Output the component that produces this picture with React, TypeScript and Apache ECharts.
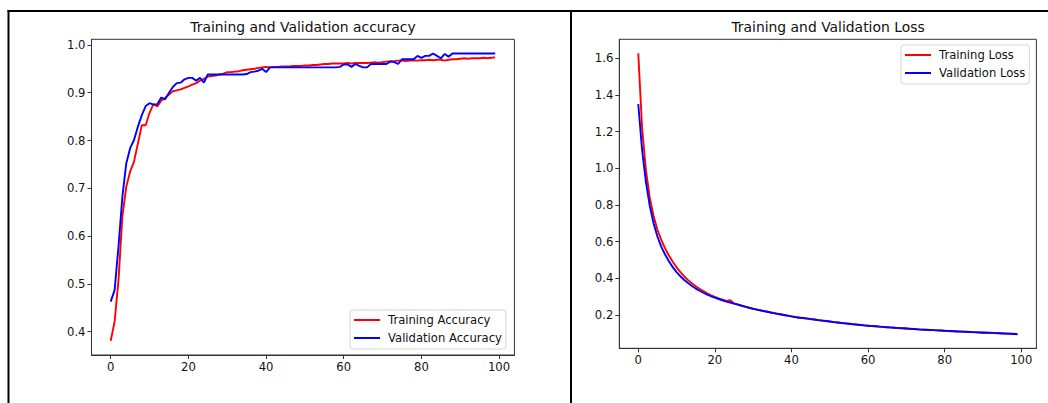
import { useEffect, useRef } from "react";
import * as echarts from "echarts";

// ---- data ----
const epochs: number[] = Array.from({ length: 100 }, (_, i) => i);

const trainAcc: number[] = [
  0.381, 0.421, 0.508, 0.641, 0.703, 0.735, 0.756, 0.794, 0.832, 0.832,
  0.858, 0.876, 0.871, 0.883, 0.889, 0.896, 0.903, 0.905, 0.907, 0.910,
  0.913, 0.917, 0.920, 0.925, 0.929, 0.934, 0.935, 0.936, 0.938, 0.940,
  0.943, 0.943, 0.944, 0.945, 0.947, 0.948, 0.949, 0.950, 0.952, 0.953,
  0.954, 0.953, 0.954, 0.954, 0.955, 0.955, 0.955, 0.956, 0.956, 0.956,
  0.957, 0.957, 0.958, 0.958, 0.959, 0.960, 0.960, 0.961, 0.961, 0.961,
  0.961, 0.962, 0.961, 0.962, 0.962, 0.962, 0.962, 0.963, 0.964, 0.963,
  0.964, 0.965, 0.966, 0.966, 0.967, 0.967, 0.966, 0.967, 0.968, 0.967,
  0.968, 0.968, 0.969, 0.968, 0.969, 0.969, 0.967, 0.969, 0.970, 0.970,
  0.971, 0.972, 0.971, 0.972, 0.972, 0.972, 0.973, 0.972, 0.973, 0.974,
];

const valAcc: number[] = [
  0.463, 0.487, 0.578, 0.682, 0.752, 0.784, 0.801, 0.829, 0.853, 0.872,
  0.878, 0.875, 0.876, 0.890, 0.886, 0.900, 0.912, 0.920, 0.921, 0.928,
  0.931, 0.931, 0.925, 0.931, 0.921, 0.938, 0.938, 0.938, 0.938, 0.938,
  0.938, 0.938, 0.938, 0.938, 0.938, 0.939, 0.943, 0.944, 0.946, 0.950,
  0.943, 0.953, 0.953, 0.953, 0.953, 0.953, 0.953, 0.953, 0.953, 0.953,
  0.953, 0.953, 0.953, 0.953, 0.953, 0.953, 0.953, 0.953, 0.953, 0.954,
  0.959, 0.959, 0.954, 0.960, 0.956, 0.953, 0.953, 0.960, 0.960, 0.960,
  0.960, 0.960, 0.965, 0.964, 0.960, 0.970, 0.970, 0.970, 0.970, 0.977,
  0.973, 0.977, 0.977, 0.982, 0.977, 0.972, 0.981, 0.975, 0.982, 0.982,
  0.982, 0.982, 0.982, 0.982, 0.982, 0.982, 0.982, 0.982, 0.982, 0.982,
];

const trainLoss: number[] = [
  1.628, 1.220, 0.990, 0.840, 0.740, 0.665, 0.610, 0.563, 0.524, 0.490,
  0.460, 0.434, 0.410, 0.390, 0.373, 0.357, 0.343, 0.330, 0.318, 0.307,
  0.298, 0.290, 0.283, 0.276, 0.280, 0.263, 0.257, 0.251, 0.245, 0.239,
  0.234, 0.229, 0.225, 0.221, 0.216, 0.212, 0.208, 0.204, 0.200, 0.196,
  0.192, 0.189, 0.186, 0.183, 0.181, 0.178, 0.175, 0.172, 0.170, 0.167,
  0.164, 0.162, 0.159, 0.156, 0.154, 0.152, 0.150, 0.148, 0.146, 0.143,
  0.141, 0.140, 0.138, 0.136, 0.135, 0.133, 0.132, 0.130, 0.129, 0.127,
  0.126, 0.125, 0.123, 0.122, 0.120, 0.119, 0.118, 0.117, 0.116, 0.115,
  0.114, 0.113, 0.112, 0.111, 0.110, 0.109, 0.108, 0.107, 0.106, 0.105,
  0.104, 0.103, 0.103, 0.102, 0.101, 0.100, 0.099, 0.098, 0.097, 0.096,
];

const valLoss: number[] = [
  1.351, 1.100, 0.925, 0.795, 0.700, 0.628, 0.573, 0.530, 0.493, 0.461,
  0.434, 0.411, 0.391, 0.374, 0.358, 0.344, 0.332, 0.321, 0.311, 0.302,
  0.294, 0.287, 0.280, 0.273, 0.268, 0.262, 0.256, 0.250, 0.244, 0.239,
  0.233, 0.229, 0.224, 0.220, 0.216, 0.211, 0.207, 0.204, 0.200, 0.196,
  0.192, 0.188, 0.185, 0.183, 0.180, 0.177, 0.175, 0.172, 0.169, 0.167,
  0.164, 0.161, 0.159, 0.156, 0.154, 0.152, 0.149, 0.147, 0.145, 0.143,
  0.141, 0.139, 0.138, 0.136, 0.134, 0.133, 0.131, 0.130, 0.128, 0.127,
  0.126, 0.124, 0.123, 0.121, 0.120, 0.119, 0.118, 0.117, 0.116, 0.115,
  0.113, 0.112, 0.111, 0.110, 0.109, 0.108, 0.107, 0.106, 0.105, 0.104,
  0.103, 0.103, 0.102, 0.101, 0.100, 0.099, 0.098, 0.097, 0.096, 0.095,
];

const xTicks: number[] = [0, 20, 40, 60, 80, 100];
const accTicks: number[] = [0.4, 0.5, 0.6, 0.7, 0.8, 0.9, 1.0];
const lossTicks: number[] = [0.2, 0.4, 0.6, 0.8, 1.0, 1.2, 1.4, 1.6];

const accTitle = "Training and Validation accuracy";
const lossTitle = "Training and Validation Loss";

const FONT = "DejaVu Sans";
const TXT = "#111";
const SPINE = "#333";

function pairs(ys: number[]): number[][] {
  return epochs.map((x, i) => [x, ys[i]]);
}

function xAxis(gridIndex: number) {
  return {
    gridIndex,
    type: "value",
    min: -4.95,
    max: 103.95,
    splitLine: { show: false },
    axisLine: { show: true, onZero: false, lineStyle: { color: SPINE, width: 1 } },
    axisTick: { show: true, length: 4, customValues: xTicks, lineStyle: { color: SPINE, width: 1 } },
    axisLabel: {
      customValues: xTicks,
      margin: 6,
      fontSize: 11.6,
      color: TXT,
      fontFamily: FONT,
      formatter: (v: number) => String(Math.round(v)),
    },
  };
}

function yAxis(gridIndex: number, min: number, max: number, ticks: number[]) {
  return {
    gridIndex,
    type: "value",
    min,
    max,
    splitLine: { show: false },
    axisLine: { show: true, onZero: false, lineStyle: { color: SPINE, width: 1 } },
    axisTick: { show: true, length: 4, customValues: ticks, lineStyle: { color: SPINE, width: 1 } },
    axisLabel: {
      customValues: ticks,
      margin: 6,
      fontSize: 11.6,
      color: TXT,
      fontFamily: FONT,
      formatter: (v: number) => v.toFixed(1),
    },
  };
}

function legend(names: string[], left: number, top: number) {
  return {
    data: names,
    orient: "vertical",
    left,
    top,
    icon: "rect",
    itemWidth: 26,
    itemHeight: 2,
    itemGap: 4,
    padding: [3, 4, 4, 4],
    borderColor: "#d4d4d4",
    borderWidth: 1,
    borderRadius: 3,
    backgroundColor: "rgba(255,255,255,0.85)",
    selectedMode: false,
    textStyle: {
      fontSize: 11.6,
      fontFamily: FONT,
      color: TXT,
      lineHeight: 14,
      padding: [0, 0, 0, 3],
    },
  };
}

function line(name: string, data: number[], color: string, idx: number) {
  return {
    name,
    type: "line",
    xAxisIndex: idx,
    yAxisIndex: idx,
    data: pairs(data),
    showSymbol: false,
    symbol: "none",
    lineStyle: { color, width: 1.9 },
    itemStyle: { color },
    z: 3,
  };
}

function titleText(text: string, x: number) {
  return {
    type: "text",
    x,
    y: 27,
    silent: true,
    style: {
      text,
      align: "center",
      verticalAlign: "middle",
      fontSize: 13.9,
      fontFamily: FONT,
      fill: TXT,
    },
  };
}

export default function App() {
  const ref = useRef<HTMLDivElement>(null);
  useEffect(() => {
    if (!ref.current) return;
    const chart = echarts.init(ref.current, null, { renderer: "svg", width: 1048, height: 403 });
    chart.setOption({
      animation: false,
      backgroundColor: "#fff",
      textStyle: { fontFamily: FONT },
      grid: [
        { left: 91.5, top: 39.3, width: 422.9, height: 315.7, show: true, borderColor: SPINE, borderWidth: 1, backgroundColor: "transparent" },
        { left: 619.3, top: 39.3, width: 417.1, height: 309, show: true, borderColor: SPINE, borderWidth: 1, backgroundColor: "transparent" },
      ],
      xAxis: [xAxis(0), xAxis(1)],
      yAxis: [yAxis(0, 0.3513, 1.0117, accTicks), yAxis(1, 0.018, 1.704, lossTicks)],
      legend: [
        legend(["Training Accuracy", "Validation Accuracy"], 350, 310),
        legend(["Training Loss", "Validation Loss"], 901, 45),
      ],
      series: [
        line("Training Accuracy", trainAcc, "#ff0000", 0),
        line("Validation Accuracy", valAcc, "#0000ff", 0),
        line("Training Loss", trainLoss, "#ff0000", 1),
        line("Validation Loss", valLoss, "#0000ff", 1),
      ],
      graphic: [
        titleText(accTitle, 303),
        titleText(lossTitle, 828),
        { type: "line", shape: { x1: 7.5, y1: 11, x2: 1048, y2: 11 }, style: { stroke: "#000", lineWidth: 2 }, silent: true },
        { type: "line", shape: { x1: 8.5, y1: 10, x2: 8.5, y2: 403 }, style: { stroke: "#000", lineWidth: 2 }, silent: true },
        { type: "line", shape: { x1: 571, y1: 10, x2: 571, y2: 403 }, style: { stroke: "#000", lineWidth: 2 }, silent: true },
      ],
    });
    return () => chart.dispose();
  }, []);
  return (
    <div
      ref={ref}
      style={{ position: "fixed", left: 0, top: 0, width: 1048, height: 403, background: "#fff" }}
    />
  );
}
